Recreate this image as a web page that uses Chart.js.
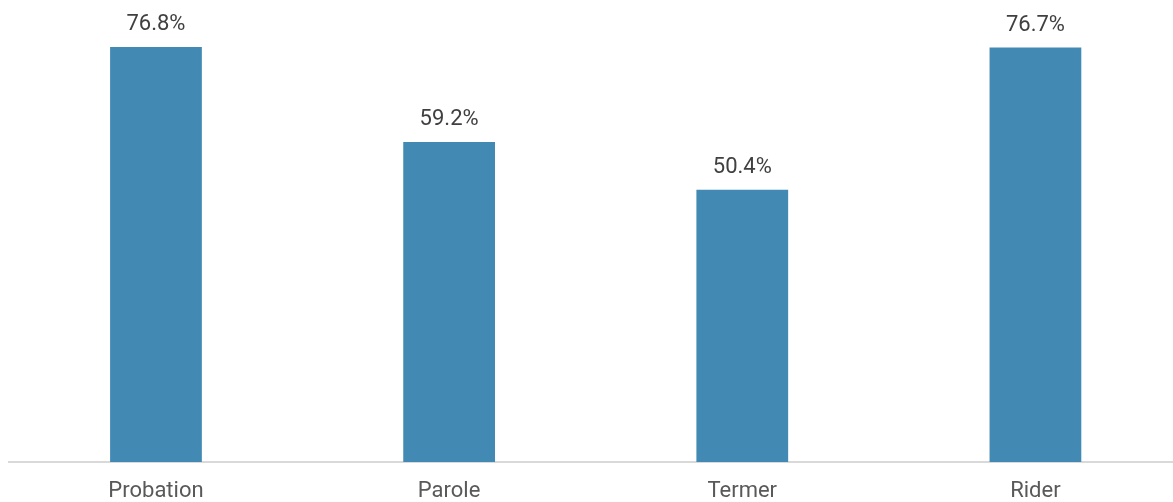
<!DOCTYPE html>
<html>
<head>
<meta charset="utf-8">
<script src="https://cdn.jsdelivr.net/npm/chart.js@4/dist/chart.umd.min.js"></script>
<style>
html,body{margin:0;padding:0;background:#fff;overflow:hidden;}
#wrap{position:relative;width:1182px;height:502px;}
</style>
</head>
<body>
<div id="wrap"><canvas id="c"></canvas></div>
<script>
const categories = ["Probation", "Parole", "Termer", "Rider"];
const values = [76.8, 59.2, 50.4, 76.7];
const valueLabels = ["76.8%", "59.2%", "50.4%", "76.7%"];

const labelPlugin = {
  id: 'valueLabels',
  afterDatasetsDraw(chart) {
    const ctx = chart.ctx;
    const meta = chart.getDatasetMeta(0);
    ctx.save();
    ctx.font = '22px Roboto';
    ctx.fillStyle = '#404040';
    ctx.textAlign = 'center';
    ctx.textBaseline = 'alphabetic';
    meta.data.forEach((bar, i) => {
      ctx.fillText(valueLabels[i], bar.x, bar.y - 17);
    });
    ctx.restore();
  }
};

new Chart(document.getElementById('c'), {
  type: 'bar',
  data: {
    labels: categories,
    datasets: [{
      data: values,
      backgroundColor: '#428AB3',
      barPercentage: 0.313,
      categoryPercentage: 1.0
    }]
  },
  options: {
    responsive: true,
    maintainAspectRatio: false,
    animation: false,
    layout: { padding: { left: 9.4, right: 0, top: 0, bottom: 0 } },
    plugins: { legend: { display: false }, tooltip: { enabled: false } },
    scales: {
      x: {
        grid: { display: false, drawTicks: false },
        border: { display: true, color: '#D9D9D9', width: 2 },
        ticks: { color: '#595959', font: { family: 'Roboto', size: 22 }, padding: 16, maxRotation: 0 },
        afterFit(scale) { scale.height = 40; }
      },
      y: {
        display: false,
        min: 0,
        max: 85.5
      }
    }
  },
  plugins: [labelPlugin]
});
</script>
</body>
</html>
